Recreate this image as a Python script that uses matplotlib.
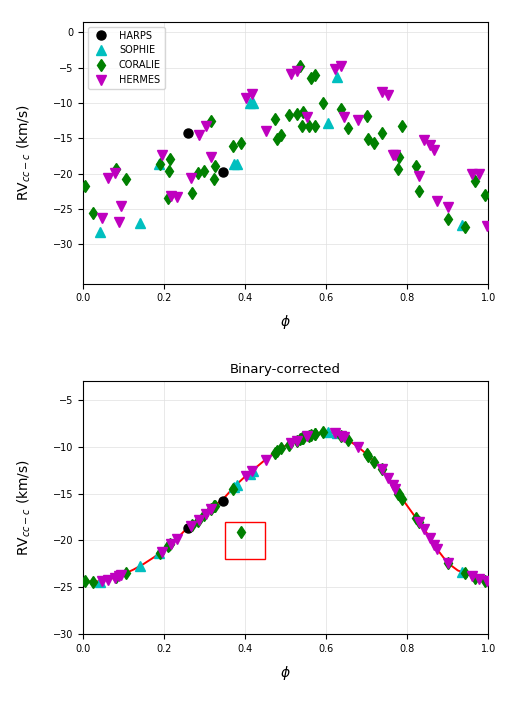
import numpy as np
import matplotlib
matplotlib.use("Agg")
import matplotlib.pyplot as plt
from matplotlib.patches import Rectangle

# phases and RVs (km/s)
harps_phase = [0.26, 0.346]
harps_rv = [-14.3, -19.8]
harps_corr = [-18.7, -15.8]

sophie_phase = [0.041, 0.14, 0.188, 0.373, 0.379, 0.412, 0.42, 0.605, 0.626, 0.936]
sophie_rv = [-28.3, -27.0, -18.7, -18.6, -18.6, -10.0, -10.0, -12.9, -6.3, -27.3]
sophie_corr = [-24.4, -22.7, -21.3, -14.3, -14.1, -12.9, -12.6, -8.5, -8.6, -23.4]

coralie_phase = [0.004, 0.025, 0.082, 0.107, 0.189, 0.212, 0.216, 0.21, 0.269, 0.284,
                 0.299, 0.315, 0.324, 0.325, 0.370, 0.389, 0.473, 0.48, 0.488, 0.508,
                 0.527, 0.535, 0.541, 0.544, 0.557, 0.562, 0.572, 0.572, 0.593, 0.638,
                 0.654, 0.70, 0.704, 0.719, 0.737, 0.778, 0.779, 0.788, 0.821, 0.828,
                 0.90, 0.942, 0.967, 0.992]
coralie_rv = [-21.8, -25.6, -19.3, -20.7, -18.6, -19.6, -17.9, -23.5, -22.8, -19.9,
              -19.7, -12.5, -20.7, -18.9, -16.1, -15.6, -12.2, -15.1, -14.6, -11.7,
              -11.5, -4.7, -13.3, -11.3, -13.3, -6.5, -6.1, -13.2, -10.0, -10.8,
              -13.6, -11.9, -15.1, -15.6, -14.2, -19.3, -17.6, -13.3, -18.9, -22.4,
              -26.5, -27.6, -21.1, -23.0]
coralie_corr = [-24.3, -24.4, -23.9, -23.5, -21.3, -20.5, -20.4, -20.6, -18.4, -17.9,
                -17.3, -16.7, -16.3, -16.3, -14.5, -19.1, -10.7, -10.5, -10.2, -9.8,
                -9.4, -9.2, -9.1, -9.1, -8.9, -8.8, -8.7, -8.7, -8.4, -8.9,
                -9.3, -10.8, -11.0, -11.6, -12.4, -15.0, -15.1, -15.6, -17.6, -18.0,
                -22.4, -23.5, -24.0, -24.3]

hermes_phase = [0.048, 0.062, 0.078, 0.089, 0.093, 0.194, 0.218, 0.231, 0.266, 0.286,
                0.303, 0.317, 0.403, 0.417, 0.451, 0.513, 0.527, 0.554, 0.621, 0.638,
                0.644, 0.678, 0.737, 0.753, 0.765, 0.771, 0.829, 0.842, 0.856, 0.867,
                0.873, 0.90, 0.961, 0.977, 0.996]
hermes_rv = [-26.3, -20.6, -19.9, -26.9, -24.6, -17.4, -23.2, -23.3, -20.6, -14.6,
             -13.3, -17.6, -9.3, -8.7, -14.0, -5.9, -5.5, -12.0, -5.2, -4.7,
             -12.0, -12.4, -8.4, -8.9, -17.4, -17.4, -20.3, -15.3, -16.0, -16.7,
             -23.9, -24.7, -20.1, -20.1, -27.4]
hermes_corr = [-24.3, -24.2, -24.0, -23.8, -23.7, -21.2, -20.4, -19.9, -18.5, -17.8,
               -17.2, -16.6, -13.1, -12.6, -11.4, -9.6, -9.4, -8.9, -8.6, -8.9,
               -9.0, -10.0, -12.4, -13.3, -14.1, -14.5, -18.0, -18.8, -19.7, -20.5,
               -20.9, -22.4, -23.8, -24.1, -24.3]

# orbital model
model_phase = [0.0, 0.025, 0.05, 0.075, 0.1, 0.125, 0.15, 0.175, 0.2, 0.225,
               0.25, 0.275, 0.3, 0.325, 0.35, 0.375, 0.4, 0.425, 0.45, 0.475,
               0.5, 0.525, 0.55, 0.575, 0.6, 0.625, 0.65, 0.675, 0.7, 0.725,
               0.75, 0.775, 0.8, 0.825, 0.85, 0.875, 0.9, 0.925, 0.95, 0.975, 1.0]
model_rv = [-24.3, -24.4, -24.3, -24.0, -23.6, -23.1, -22.5, -21.8, -21.0, -20.1,
            -19.0, -18.2, -17.3, -16.3, -15.4, -14.2, -13.2, -12.3, -11.4, -10.6,
            -9.9, -9.4, -9.0, -8.6, -8.4, -8.6, -9.2, -9.9, -10.8, -11.8,
            -13.1, -14.8, -16.3, -17.8, -19.3, -21.0, -22.4, -23.2, -23.6, -24.1, -24.3]

fig = plt.figure(figsize=(5.15, 7.04), dpi=100)
ax1 = fig.add_axes([0.161, 0.597, 0.787, 0.372])
ax2 = fig.add_axes([0.161, 0.099, 0.787, 0.360])


def draw(ax, h, s, c, m):
    ax.plot(harps_phase, h, 'o', color='k', ms=6.5, label='HARPS', zorder=3)
    ax.plot(sophie_phase, s, '^', color='c', ms=7, label='SOPHIE', zorder=3)
    ax.plot(coralie_phase, c, 'd', color='g', ms=6.5, label='CORALIE', zorder=3)
    ax.plot(hermes_phase, m, 'v', color='m', ms=7, label='HERMES', zorder=3)


draw(ax1, harps_rv, sophie_rv, coralie_rv, hermes_rv)
ax1.set_xlim(0, 1)
ax1.set_ylim(-35.6, 1.5)
ax1.set_yticks([0, -5, -10, -15, -20, -25, -30])
ax1.legend(loc='upper left', fontsize=7, numpoints=1)

ax2.plot(model_phase, model_rv, '-', color='r', lw=1.4, zorder=2)
draw(ax2, harps_corr, sophie_corr, coralie_corr, hermes_corr)
ax2.add_patch(Rectangle((0.35, -22), 0.1, 4, fill=False, edgecolor='r', lw=1, zorder=4))
ax2.set_xlim(0, 1)
ax2.set_ylim(-30, -3)
ax2.set_yticks([-5, -10, -15, -20, -25, -30])
ax2.set_title('Binary-corrected', fontsize=9.5)

for ax in (ax1, ax2):
    ax.grid(True, color='#e0e0e0', lw=0.5)
    ax.set_axisbelow(True)
    ax.tick_params(labelsize=7)
    ax.set_xlabel(r'$\phi$', fontsize=10, labelpad=7)
    ax.set_ylabel(r'RV$_{cc-c}$ (km/s)', fontsize=10, labelpad=14)

fig.savefig('out.png', dpi=100)
